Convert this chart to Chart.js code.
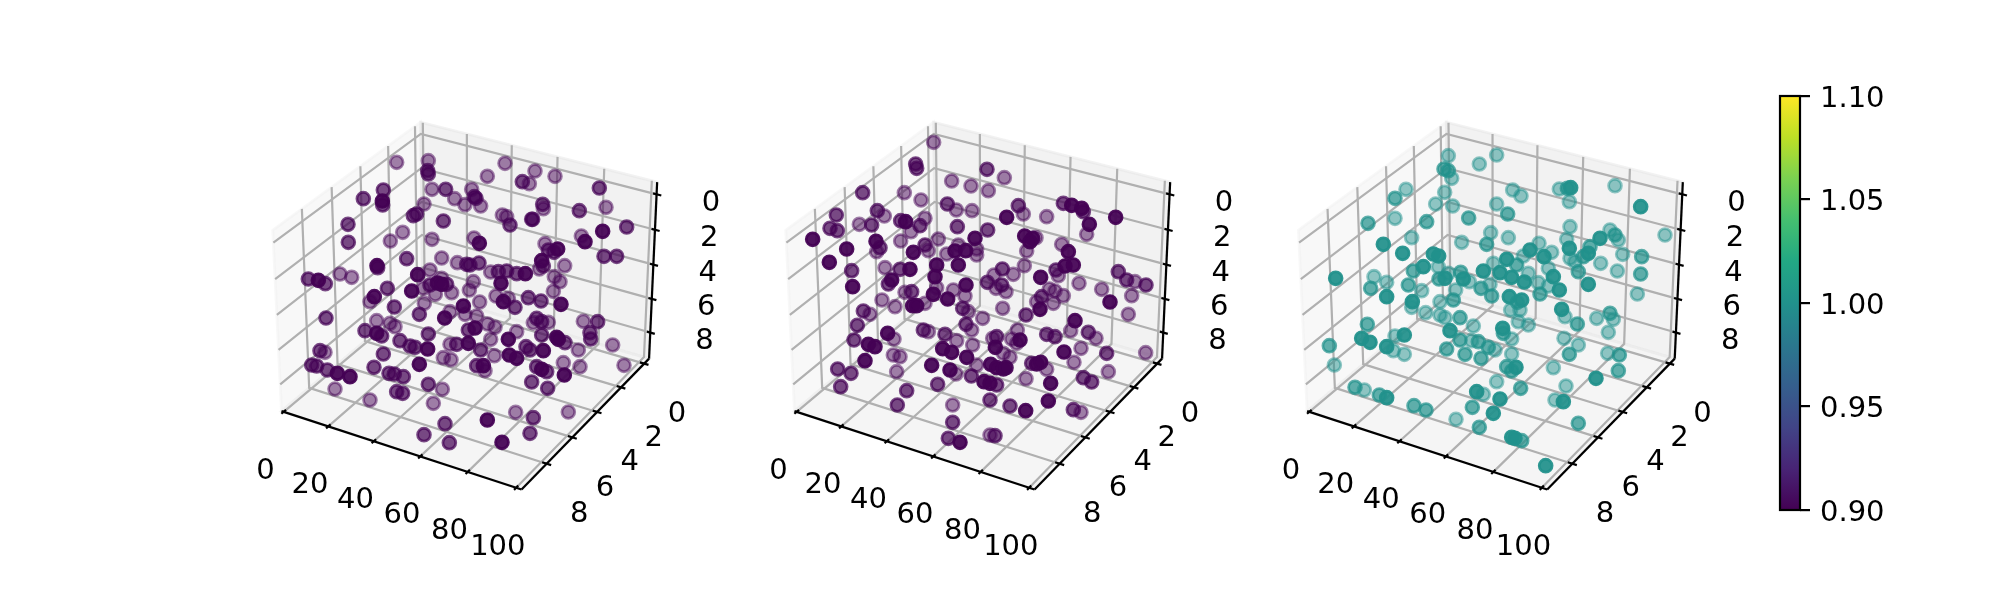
<!DOCTYPE html>
<html>
<head>
<meta charset="utf-8">
<title>3D scatter panels</title>
<script src="https://cdn.jsdelivr.net/npm/chart.js@4/dist/chart.umd.min.js"></script>
<style>
    body { margin: 0; background: #fff; width: 2000px; height: 600px; overflow: hidden; position: relative; }
    canvas { position: absolute; }
</style>
</head>
<body>
<canvas id="panel1" width="500" height="480" style="left:250px;top:100px"></canvas>
<canvas id="panel2" width="500" height="480" style="left:770px;top:100px"></canvas>
<canvas id="panel3" width="500" height="480" style="left:1280px;top:100px"></canvas>
<canvas id="colorbar" width="140" height="450" style="left:1770px;top:80px"></canvas>
<script>
// tick labels of the three axes
const xTicks = [0, 20, 40, 60, 80, 100];
const yTicks = [0, 2, 4, 6, 8];
const zTicks = [0, 2, 4, 6, 8];
const colorbarTicks = [0.90, 0.95, 1.00, 1.05, 1.10];

const xLimits = [-1, 102.2];
const yLimits = [-0.43, 9.89];
const zLimits = [-0.68, 9.57];

// points: position on the projection plane, and how near the viewer (0 far, 1 near)
const panel1X = [440,535,533,535,765,855,712,915,817,838,
    1048,400,546,587,665,340,614,673,678,397,398,522,645,692,878,880,1068,988,500,490,
    757,770,845,848,580,294,780,1130,458,1058,994,421,295,546,672,1005,688,885,923,895,912,1062,1100,470,575,622,650,660,687,875,880,868,944,381,383,540,503,
    722,745,770,800,826,913,930,175,205,226,270,305,670,753,562,575,590,540,575,520,412,485,658,910,605,373,360,556,738,775,835,873,933,760,795,689,640,523,433,600,584,645,680,508,228,860,875,895,850,1000,1043,380,420,435,713,735,675,655,800,345,380,395,1020,1022,535,875,920,925,945,775,722,450,480,495,600,620,655,1088,828,840,880,985,533,692,210,225,733,778,800,400,580,603,940,508,680,700,705,860,875,890,943,990,1122,185,200,232,262,300,372,417,433,460,845,535,577,893,255,440,458,360,550,797,955,850,712,585,840,522,598,756];
const panel1Y = [187,182,212,222,190,213,229,229,245,251,
    264,270,268,268,268,296,296,290,295,303,315,312,314,318,313,326,322,332,342,347,
    345,350,358,358,363,373,375,381,397,394,408,423,427,418,414,425,430,431,447,450,457,469,469,476,474,488,493,495,489,482,498,507,497,497,503,510,524,
    516,515,513,521,521,530,545,537,541,551,522,532,545,550,549,553,553,555,535,565,565,573,570,574,578,590,605,583,588,595,593,603,613,605,622,606,618,610,621,635,654,643,648,643,654,655,665,667,668,664,665,662,670,680,672,682,684,690,695,692,700,708,698,717,702,705,712,718,728,718,718,722,738,742,733,733,730,735,740,750,752,750,747,750,752,757,767,765,775,762,773,779,788,793,797,797,812,800,808,815,825,800,796,795,798,810,820,830,802,820,822,830,846,853,868,865,867,875,880,900,910,937,936,953,960,971,1000,1004,1028,1027];
const panel1Depth = [.2,.2,.6,.6,.2,.2,.2,.2,.6,.2,
    .6,.6,.2,.6,.2,.6,.2,.6,.6,1,.6,.2,.2,.2,.6,.2,.2,.6,.6,.6,
    .2,.2,.6,.6,.6,.6,.6,.6,.2,1,.2,.2,.6,.2,.2,1,1,.2,1,.6,.6,.6,.6,.6,.2,.2,.6,.6,.6,1,.6,.2,.2,1,.6,.2,1,
    .2,.6,.6,.6,1,.2,.2,.6,1,.6,.2,.2,.2,1,1,1,.6,.6,.2,.2,.6,1,.2,.2,.2,1,.2,.2,.2,.2,.6,.6,1,1,.6,.2,1,.2,.6,.2,1,.2,.2,.6,.6,.6,.6,.2,.2,.2,.6,.2,.2,.2,.2,.2,1,.6,.2,.6,1,.6,.6,.6,.6,.6,1,1,.6,1,.2,.6,.6,.6,.2,.6,1,.2,.6,.6,1,.2,1,.6,.6,.2,.2,1,1,.6,.2,.2,.2,1,.6,1,.2,.6,1,.6,1,.2,.2,.6,.6,.6,1,1,.6,.6,.6,.6,.6,.6,.2,.6,.2,.6,.6,.2,.2,.2,.2,.6,1,.6,.6,.6,.6,1];

const panel2X = [491,437,440,651,703,545,603,655,278,403,453,532,559,606,880,905,935,940,745,760,710,830,1037,199,322,343,268,305,392,407,465,450,423,958,950,180,202,128,562,653,615,505,318,392,764,798,788,780,875,230,330,320,430,465,475,530,565,555,587,620,620,895,770,178,565,500,763,885,910,245,345,390,420,697,858,865,730,1045,495,812,365,355,1070,1095,1128,248,652,672,695,927,995,588,678,708,500,405,425,550,838,855,880,490,533,585,1085,336,815,1020,800,850,465,428,440,375,578,595,698,810,280,300,768,1075,638,915,588,262,605,460,475,353,372,742,902,955,978,830,855,525,680,668,560,725,750,740,252,608,676,933,295,315,518,545,882,1010,1127,370,390,590,720,700,285,912,485,620,785,800,812,830,662,680,700,708,203,243,380,540,558,604,1015,768,940,965,642,660,680,842,503,212,410,660,835,382,548,720,767,910,933,548,660,675,535,570];
const panel2Y = [127,192,205,208,233,243,258,272,278,278,300,312,330,332,310,316,325,335,317,342,352,350,352,345,332,348,373,375,362,365,355,377,395,373,403,385,392,418,380,390,415,417,424,423,408,413,415,425,433,447,443,455,457,435,452,462,435,453,452,447,465,455,453,487,495,495,497,498,495,512,503,508,508,507,510,527,523,515,530,532,540,552,540,545,555,560,547,525,555,550,568,555,565,575,563,577,575,570,567,573,587,583,597,588,587,600,590,606,605,610,610,617,617,620,625,635,625,628,633,643,645,643,655,662,673,676,690,690,695,700,717,690,692,697,715,703,710,703,710,715,722,717,720,730,720,735,742,745,733,740,746,757,756,760,758,765,770,772,772,760,782,787,796,795,790,792,787,808,793,803,807,803,807,820,815,810,822,828,815,836,833,846,845,850,855,850,853,860,872,900,903,915,915,918,932,929,937,967,1005,1007,1015,1027];
const panel2Depth = [.2,.6,.6,.6,.2,.2,.2,.2,.6,.2,.2,.6,.2,.2,.6,1,1,.6,.6,.2,1,.2,1,.6,.6,.2,.2,.6,.6,1,.2,.6,.2,1,.2,.6,.6,1,.6,.6,1,.2,1,.2,1,.2,1,1,.2,1,.6,.2,1,.6,.2,.2,.2,1,1,.2,.2,1,.2,1,1,1,.2,1,1,.6,.2,.6,1,.6,.6,.2,.2,.6,1,1,1,.6,.6,.2,.6,1,.6,.2,.6,.2,.2,1,.2,.2,.2,.2,.6,.2,.2,.2,.2,1,1,.2,.2,.2,.6,1,.2,.2,.2,1,1,.2,.6,.2,.2,1,.6,.2,.6,.2,.2,1,.6,.6,.2,.6,.2,1,.2,.2,.2,.6,.2,.6,.6,.6,.6,.2,.2,.2,1,.2,.6,.2,1,.2,1,1,1,1,1,.6,.2,.2,.2,1,.2,.2,1,.2,1,.2,.6,1,1,.2,1,1,1,1,.6,.6,.2,1,.2,.6,.2,.2,.6,.6,1,1,.6,1,.6,.6,.6,.6,1,.6,.2,.6,1,.6,.2,.6,.2,.6,.6];

const panel3X = [505,650,598,492,505,515,838,862,872,1005,378,698,723,494,345,868,467,518,650,1082,683,345,566,440,264,870,990,1155,632,1005,1015,960,395,860,685,545,620,777,310,868,930,750,368,460,476,815,925,1028,792,1085,910,870,730,680,640,885,962,710,475,430,400,805,895,1012,610,660,1082,745,542,505,167,282,820,477,495,695,550,568,733,320,775,385,925,838,272,630,603,805,425,527,1072,780,635,320,688,520,480,725,712,397,395,845,692,720,990,1000,437,480,495,540,855,950,715,745,892,262,580,668,670,510,985,345,373,695,852,245,270,540,575,595,625,645,895,148,320,340,500,373,695,555,603,868,983,1018,163,680,708,695,820,1015,650,948,858,722,225,253,298,320,590,610,660,402,438,825,850,577,640,528,895,598,695,705,725,797];
const panel3Y = [167,165,192,207,212,235,267,265,263,257,268,270,288,277,295,305,312,318,312,320,342,355,354,365,370,380,390,405,398,405,420,415,413,418,413,427,433,430,433,445,440,450,460,462,468,457,460,463,470,470,470,475,468,478,490,485,490,495,500,500,513,505,515,513,513,518,522,520,517,520,535,530,530,537,535,532,537,545,546,547,548,555,553,570,565,553,565,558,572,570,582,582,588,590,590,600,605,600,607,605,622,628,630,630,640,658,638,645,653,653,650,655,665,675,672,673,678,685,700,692,697,708,705,717,715,715,727,720,722,725,742,750,735,737,740,752,747,763,762,763,775,763,760,765,795,800,802,813,803,812,845,835,858,865,862,870,885,893,875,883,897,917,930,900,905,922,940,958,970,982,1012,1015,1022,1097];
const panel3Depth = [.2,.2,.2,.6,.6,.2,.2,.6,1,.2,.2,.2,.2,.2,.6,.2,.2,.2,.2,1,.6,.2,.6,.6,.6,.2,.2,.2,.2,.6,.2,1,.2,.2,.2,.2,.6,.2,1,1,.6,1,1,1,1,.2,1,.2,1,.6,.6,.2,.2,1,.2,.2,.2,.6,.2,1,.6,.2,.6,.2,1,1,.6,.2,.6,.2,1,.2,1,.6,1,1,1,.2,1,.2,.2,.6,1,1,.6,.2,.6,.2,.2,.2,.2,.6,.6,1,1,.6,.2,1,.6,1,.2,1,.2,.2,.6,.2,.2,.2,.2,.6,.2,.2,.2,.2,.6,.6,.2,1,.6,1,.2,.2,1,.2,.2,1,1,.6,.2,.6,.6,.2,.2,.6,1,.2,.6,.2,.2,.6,.6,.6,.2,.6,.2,.6,1,.6,.2,.6,.2,1,.2,.6,.6,.2,.6,1,1,.2,1,.6,.6,.2,1,.6,1,.2,.6,.6,1,1,.6,1];

const viridisStops = ['#440154', '#482475', '#414487', '#355f8d', '#2a788e', '#21918c', '#22a884', '#44bf70', '#7ad151', '#bddf26', '#fde725'];

const FONT = '29px "DejaVu Sans"';
const SCALE = 6930; // projection plane units per unit of the camera plane

// matplotlib's default view: elev 30, azim -60, box aspect 4:4:3, dist 10.
// a goes along the front edge, b to the back, c up, all 0..1.
function project(a, b, c, originX, originY) {
    const qx = (a - 0.5) * 1.1905, qy = (b - 0.5) * 1.1905, qz = (c - 0.5) * 0.8929;
    const xv = qx * 0.866 + qy * 0.5;
    const yv = -0.25 * qx + 0.433 * qy + 0.866 * qz;
    const d = 10 - (0.433 * qx - 0.75 * qy + 0.5 * qz);
    return { x: originX + SCALE * xv / d, y: originY - SCALE * yv / d };
}

const aOf = x => (x - xLimits[0]) / (xLimits[1] - xLimits[0]);
const bOf = y => (yLimits[1] - y) / (yLimits[1] - yLimits[0]);
const cOf = z => (zLimits[1] - z) / (zLimits[1] - zLimits[0]);

const axes3dPlugin = {
    id: 'axes3d',
    beforeDatasetsDraw(chart, args, opts) {
        const { ctx, scales } = chart;
        const pt = (a, b, c) => {
            const p = project(a, b, c, opts.originX, opts.originY);
            return [scales.x.getPixelForValue(p.x), scales.y.getPixelForValue(p.y)];
        };
        const path = (points) => {
            ctx.beginPath();
            points.forEach((p, i) => i ? ctx.lineTo(p[0], p[1]) : ctx.moveTo(p[0], p[1]));
        };
        ctx.save();

        // panes
        const panes = [
            ['rgba(242,242,242,0.5)', [pt(0, 0, 0), pt(0, 1, 0), pt(0, 1, 1), pt(0, 0, 1)]],
            ['rgba(230,230,230,0.5)', [pt(0, 1, 0), pt(1, 1, 0), pt(1, 1, 1), pt(0, 1, 1)]],
            ['rgba(236,236,236,0.5)', [pt(0, 0, 0), pt(1, 0, 0), pt(1, 1, 0), pt(0, 1, 0)]]
        ];
        panes.forEach(([color, points]) => {
            path(points);
            ctx.closePath();
            ctx.fillStyle = color;
            ctx.fill();
            ctx.strokeStyle = color;
            ctx.lineWidth = 2.8;
            ctx.stroke();
        });

        // grid
        ctx.strokeStyle = '#b0b0b0';
        ctx.lineWidth = 2.2;
        xTicks.forEach(t => {
            const a = aOf(t);
            path([pt(a, 0, 0), pt(a, 1, 0), pt(a, 1, 1)]);
            ctx.stroke();
        });
        yTicks.forEach(t => {
            const b = bOf(t);
            path([pt(1, b, 0), pt(0, b, 0), pt(0, b, 1)]);
            ctx.stroke();
        });
        zTicks.forEach(t => {
            const c = cOf(t);
            path([pt(0, 0, c), pt(0, 1, c), pt(1, 1, c)]);
            ctx.stroke();
        });

        // axis lines and tick marks
        ctx.strokeStyle = '#000';
        path([pt(0, 0, 0), pt(1, 0, 0)]); ctx.stroke();
        path([pt(1, 0, 0), pt(1, 1, 0)]); ctx.stroke();
        path([pt(1, 1, 0), pt(1, 1, 1)]); ctx.stroke();
        xTicks.forEach(t => { path([pt(aOf(t), -0.015, 0), pt(aOf(t), 0.015, 0)]); ctx.stroke(); });
        yTicks.forEach(t => { path([pt(0.982, bOf(t), 0), pt(1.018, bOf(t), 0)]); ctx.stroke(); });
        zTicks.forEach(t => { path([pt(0.986, 1, cOf(t)), pt(1.019, 1, cOf(t))]); ctx.stroke(); });

        // tick labels
        ctx.fillStyle = '#000';
        ctx.font = FONT;
        ctx.textAlign = 'center';
        ctx.textBaseline = 'middle';
        const label = (text, p, dx, dy) => ctx.fillText(text, p[0] + dx / 3, p[1] + dy / 3);
        xTicks.forEach(t => label(String(t), pt(aOf(t), 0, 0), -55, 178));
        yTicks.forEach(t => label(String(t), pt(1, bOf(t), 0), 98, 153));
        zTicks.forEach(t => label(String(t), pt(1, 1, cOf(t)), 163, 27));
        ctx.restore();
    }
};

function makePanel(id, xs, ys, depth, rgb, originX, originY) {
    // far points first, like a depth sorted scatter
    const points = xs.map((x, i) => ({ x: x, y: ys[i], depth: depth[i] }))
        .sort((p, q) => p.depth - q.depth);
    const shade = ctx => `rgba(${rgb},${0.38 + 0.55 * ctx.raw.depth})`;

    new Chart(document.getElementById(id), {
        type: 'scatter',
        data: {
            datasets: [{
                data: points,
                pointRadius: 6.4,
                pointBorderWidth: 2.8,
                pointBackgroundColor: shade,
                pointBorderColor: shade
            }]
        },
        options: {
            responsive: false,
            animation: false,
            devicePixelRatio: 1,
            layout: { padding: 0, autoPadding: false },
            scales: {
                x: { type: 'linear', display: false, min: 0, max: 1500 },
                y: { type: 'linear', display: false, min: 0, max: 1440, reverse: true }
            },
            plugins: {
                legend: { display: false },
                tooltip: { enabled: false },
                axes3d: { originX: originX, originY: originY }
            }
        },
        plugins: [axes3dPlugin]
    });
}

makePanel('panel1', panel1X, panel1Y, panel1Depth, '68,1,84', 656, 591);
makePanel('panel2', panel2X, panel2Y, panel2Depth, '68,1,84', 635, 591);
makePanel('panel3', panel3X, panel3Y, panel3Depth, '33,145,140', 643, 591);

// colorbar
const outlinePlugin = {
    id: 'outline',
    afterDatasetsDraw(chart) {
        const { ctx, chartArea } = chart;
        ctx.save();
        ctx.strokeStyle = '#000';
        ctx.lineWidth = 2.2;
        ctx.strokeRect(chartArea.left, chartArea.top, chartArea.width, chartArea.height);
        ctx.restore();
    }
};

new Chart(document.getElementById('colorbar'), {
    type: 'bar',
    data: {
        labels: [''],
        datasets: [{
            data: [[colorbarTicks[0], colorbarTicks[colorbarTicks.length - 1]]],
            categoryPercentage: 1,
            barPercentage: 1,
            backgroundColor: (ctx) => {
                const area = ctx.chart.chartArea;
                if (!area) return viridisStops[0];
                const g = ctx.chart.ctx.createLinearGradient(0, area.bottom, 0, area.top);
                viridisStops.forEach((c, i) => g.addColorStop(i / (viridisStops.length - 1), c));
                return g;
            }
        }]
    },
    options: {
        responsive: false,
        animation: false,
        devicePixelRatio: 1,
        layout: { padding: { left: 10, top: 16, bottom: 20, right: 0 }, autoPadding: false },
        scales: {
            x: { display: false },
            y: {
                position: 'right',
                min: colorbarTicks[0],
                max: colorbarTicks[colorbarTicks.length - 1],
                afterFit: (scale) => {
                    scale.width = 110;
                    scale.paddingTop = 0;
                    scale.paddingBottom = 0;
                },
                afterBuildTicks: (scale) => { scale.ticks = colorbarTicks.map(v => ({ value: v })); },
                border: { display: false },
                grid: { drawOnChartArea: false, color: '#000', lineWidth: 2.2, tickLength: 10 },
                ticks: {
                    color: '#000',
                    padding: 10,
                    labelOffset: 3,
                    font: { family: 'DejaVu Sans', size: 29 },
                    callback: (v) => Number(v).toFixed(2)
                }
            }
        },
        plugins: { legend: { display: false }, tooltip: { enabled: false } }
    },
    plugins: [outlinePlugin]
});
</script>
</body>
</html>
